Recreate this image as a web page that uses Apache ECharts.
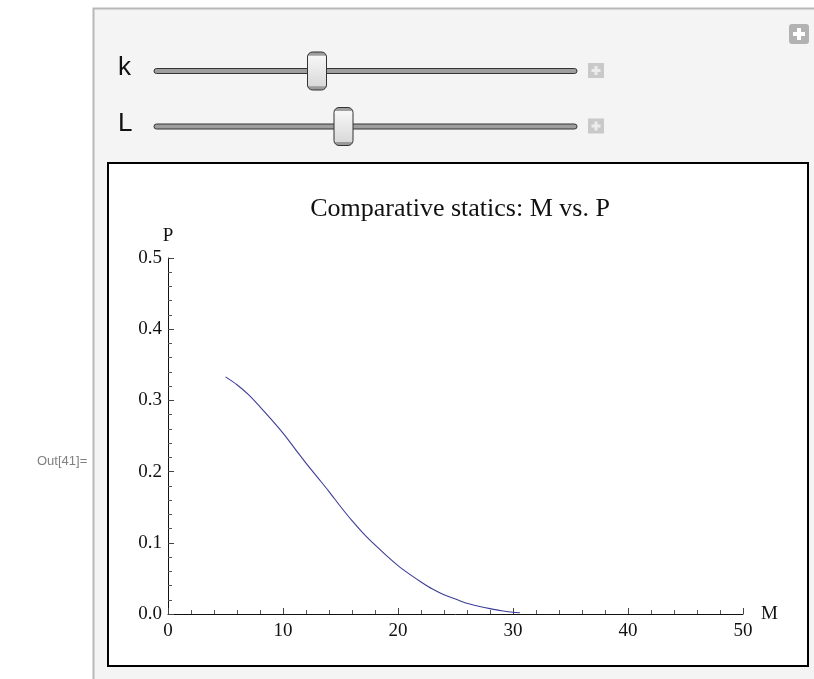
<!DOCTYPE html>
<html>
<head>
<meta charset="utf-8">
<script src="https://cdn.jsdelivr.net/npm/echarts@6/dist/echarts.min.js"></script>
<style>
html,body{margin:0;padding:0;background:#fff;}
#chart{width:814px;height:679px;}
</style>
</head>
<body>
<div id="chart"></div>
<script>
// ---- data ----
const titleText = 'Comparative statics: M vs. P';
const xName = 'M';
const yName = 'P';
const xTicks = [0, 10, 20, 30, 40, 50];
const yTicks = [0.0, 0.1, 0.2, 0.3, 0.4, 0.5];
const mValues = [5, 6, 7, 8, 9, 10, 11, 12, 13, 14, 15, 16, 17, 18, 19, 20, 21, 22, 23, 24, 25, 26, 27, 28, 29, 30, 30.6];
const pValues = [0.333, 0.322, 0.308, 0.291, 0.273, 0.254, 0.233, 0.212, 0.192, 0.172, 0.151, 0.131, 0.113, 0.097, 0.082, 0.068, 0.056, 0.045, 0.035, 0.027, 0.021, 0.015, 0.011, 0.0075, 0.0045, 0.0025, 0.0018];
const sliderLabels = ['k', 'L'];
const outLabel = 'Out[41]=';

const chart = echarts.init(document.getElementById('chart'), null, {renderer: 'canvas'});
const serif = '"Liberation Serif", "DejaVu Serif", serif';
const sans = '"Liberation Sans", Arial, sans-serif';

const thumbFill = new echarts.graphic.LinearGradient(0, 0, 0, 1, [
  {offset: 0, color: '#9a9a9a'}, {offset: 0.1, color: '#a0a0a0'},
  {offset: 0.11, color: '#f7f7f7'}, {offset: 0.89, color: '#d9d9d9'},
  {offset: 0.9, color: '#9a9a9a'}, {offset: 1, color: '#9a9a9a'}
]);

function slider(label, cy, thumbX) {
  return [
    {type: 'text', left: 118, top: cy - 16, style: {text: label, font: '26px ' + sans, fill: '#111'}},
    {type: 'rect', shape: {x: 154, y: cy - 2.5, width: 423, height: 5, r: 2.5}, style: {fill: '#9e9e9e', stroke: '#333', lineWidth: 1}},
    {type: 'rect', shape: {x: thumbX, y: cy - 19, width: 19, height: 38, r: 5}, style: {fill: thumbFill, stroke: '#333', lineWidth: 1}},
    {type: 'rect', shape: {x: 588, y: cy - 8, width: 16, height: 15}, style: {fill: '#c9c9c9'}},
    {type: 'rect', shape: {x: 594.5, y: cy - 5, width: 3, height: 9}, style: {fill: '#ececec'}},
    {type: 'rect', shape: {x: 591.5, y: cy - 2, width: 9, height: 3}, style: {fill: '#ececec'}}
  ];
}

const graphics = [
  {type: 'rect', z: -20, shape: {x: 93.5, y: 8.5, width: 740, height: 700}, style: {fill: '#f4f4f4', stroke: '#b8b8b8', lineWidth: 2}},
  {type: 'rect', z: -19, shape: {x: 789, y: 24, width: 20, height: 20, r: 3}, style: {fill: '#b2b2b2'}},
  {type: 'rect', z: -18, shape: {x: 797, y: 28, width: 4, height: 12}, style: {fill: '#fff'}},
  {type: 'rect', z: -18, shape: {x: 793, y: 32, width: 12, height: 4}, style: {fill: '#fff'}},
  {type: 'rect', z: -15, shape: {x: 108, y: 163, width: 700, height: 503}, style: {fill: '#fff', stroke: '#000', lineWidth: 2}},
  {type: 'text', left: 37, top: 455, style: {text: outLabel, font: '13px ' + sans, fill: '#808080'}}
].concat(slider(sliderLabels[0], 71, 307.5), slider(sliderLabels[1], 126.5, 334));

const option = {
  animation: false,
  backgroundColor: '#fff',
  title: {
    text: titleText, left: 455, top: 191, textAlign: 'center',
    textStyle: {fontFamily: serif, fontSize: 26, fontWeight: 'normal', color: '#111'}
  },
  graphic: graphics,
  grid: {left: 168, right: 71, top: 258, bottom: 65, containLabel: false},
  xAxis: {
    type: 'value', min: xTicks[0], max: xTicks[xTicks.length - 1], interval: 10,
    name: xName, nameLocation: 'end', nameGap: 18,
    nameTextStyle: {fontFamily: serif, fontSize: 19, color: '#111', verticalAlign: 'middle'},
    axisLine: {show: true, onZero: false, lineStyle: {color: '#111', width: 1}},
    axisTick: {show: true, inside: true, length: 6, lineStyle: {color: '#444'}},
    minorTick: {show: true, splitNumber: 5, length: 4, lineStyle: {color: '#555'}},
    splitLine: {show: false},
    axisLabel: {fontFamily: serif, fontSize: 19, color: '#111', margin: 8},
  },
  yAxis: {
    type: 'value', min: yTicks[0], max: yTicks[yTicks.length - 1], interval: 0.1,
    name: yName, nameLocation: 'end', nameGap: 12,
    nameTextStyle: {fontFamily: serif, fontSize: 19, color: '#111'},
    axisLine: {show: true, onZero: false, lineStyle: {color: '#111', width: 1}},
    axisTick: {show: true, inside: true, length: 6, lineStyle: {color: '#444'}},
    minorTick: {show: true, splitNumber: 5, length: 4, lineStyle: {color: '#555'}},
    splitLine: {show: false},
    axisLabel: {fontFamily: serif, fontSize: 19, color: '#111', margin: 6, formatter: v => v.toFixed(1)},
  },
  series: [{
    type: 'line',
    data: mValues.map((m, i) => [m, pValues[i]]),
    showSymbol: false,
    smooth: 0.3,
    lineStyle: {color: '#3d3d99', width: 1.1},
    itemStyle: {color: '#3d3d99'}
  }]
};
chart.setOption(option);
</script>
</body>
</html>
